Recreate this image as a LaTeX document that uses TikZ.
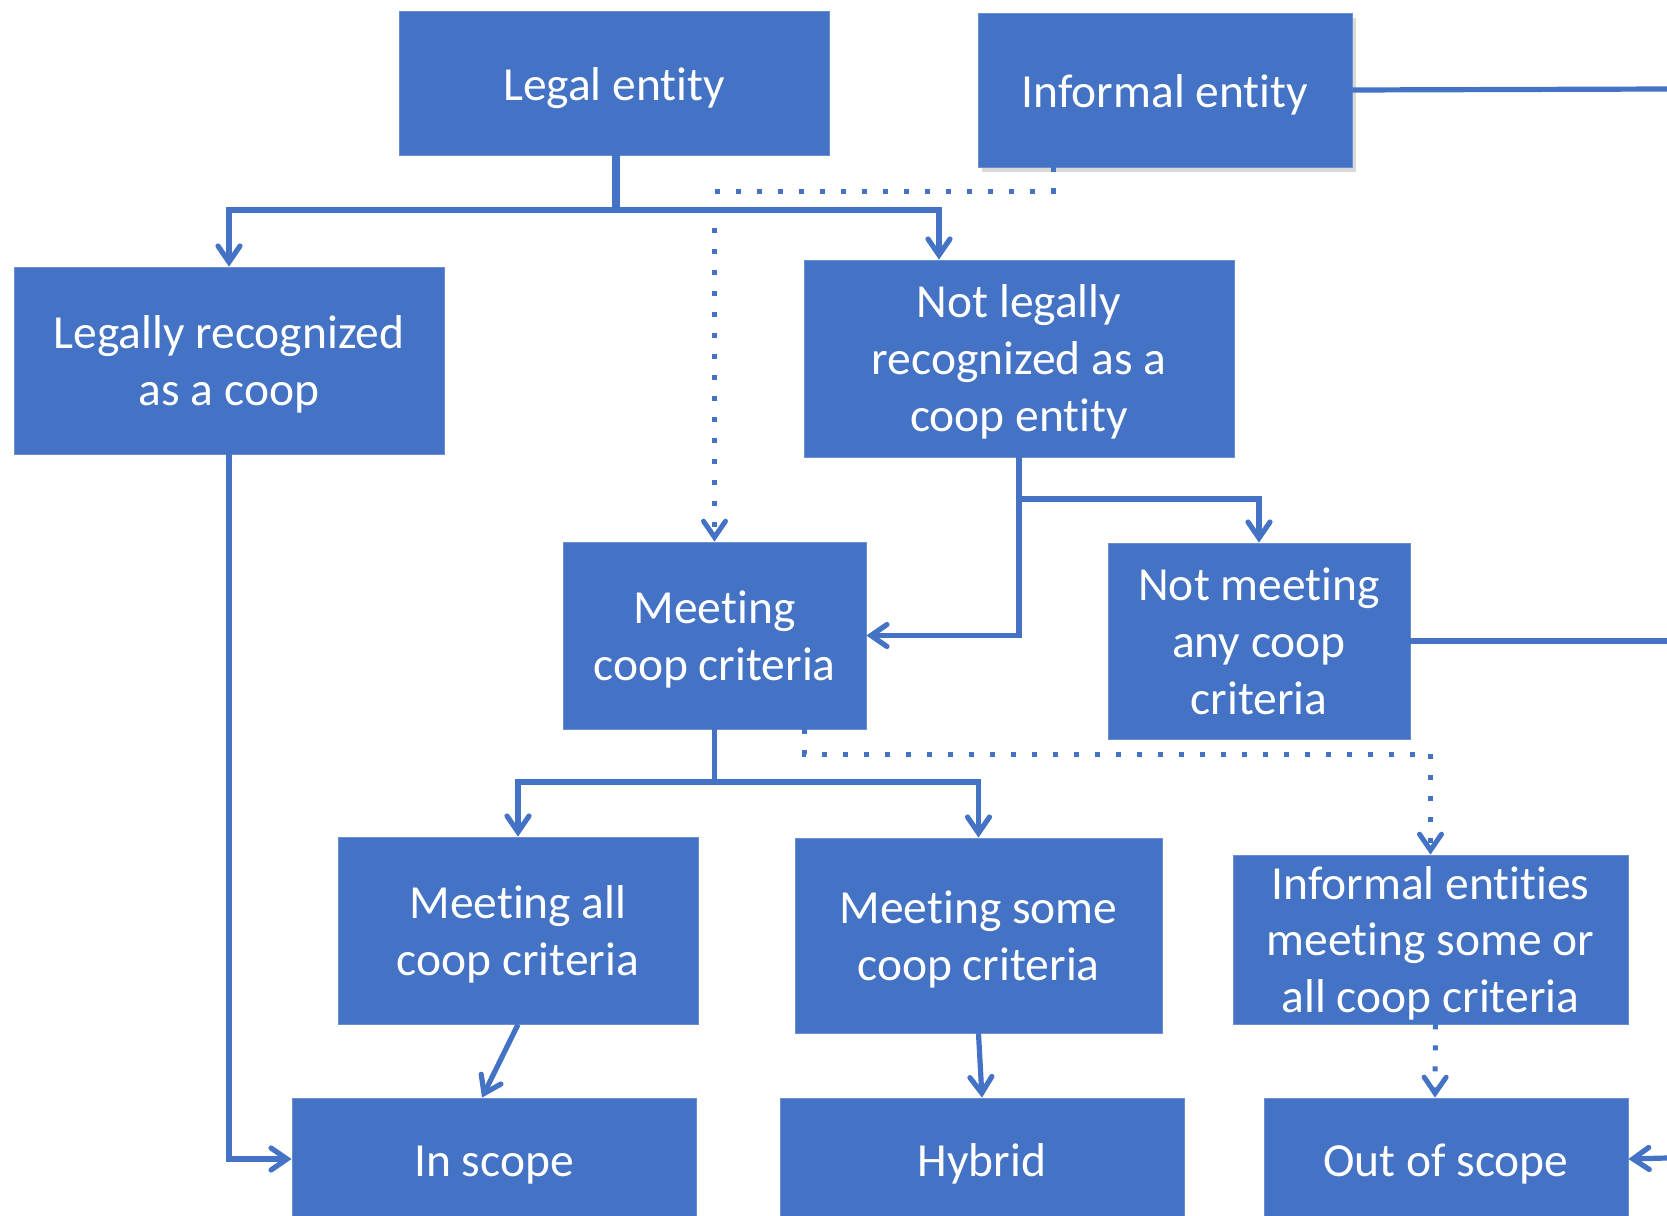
\documentclass[tikz,border=0pt]{standalone}
\usepackage{fontspec}
\setmainfont{Carlito}[Ligatures={NoCommon}]
\usetikzlibrary{arrows.meta,calc,shadows}
\definecolor{boxblue}{HTML}{4472C4}
\definecolor{boxedge}{HTML}{6A8ED0}
\newcommand{\nl}{\kern0pt }
\begin{document}
\begin{tikzpicture}[x=0.5pt,y=-0.5pt,
  box/.style={rectangle,fill=boxblue,draw=boxedge,line width=0.4pt,text=white,align=center,
    inner sep=0pt,font=\fontsize{23.75pt}{28.5pt}\selectfont,text depth=0pt,
    execute at begin node={\rule{0pt}{17pt}}},
  conn/.style={draw=boxblue,line width=2.6pt},
  arr/.style={conn,-{Straight Barb[length=8pt,width=11pt,line cap=round]}},
  dotconn/.style={draw=boxblue,line width=2.5pt,dash pattern=on 2.5pt off 8pt},
  dotarr/.style={dotconn,-{Straight Barb[length=8pt,width=11pt,line cap=round,sep=0pt]}}]
\useasboundingbox (0,0) rectangle (1667,1216);
\clip (0,0) rectangle (1667,1216);
\node[box,minimum width=215pt,minimum height=72pt] (legal) at (614,83) {Legal ent\nl ity};
\node[box,minimum width=187pt,minimum height=77pt,drop shadow={opacity=0.3,shadow xshift=2pt,shadow yshift=-2.5pt}] (informal) at (1165,90) {Informal ent\nl ity};
\node[box,minimum width=215pt,minimum height=93.5pt] (legrec) at (229,360.5) {Legally recognized\\as a coop};
\node[box,minimum width=215pt,minimum height=98.5pt] (notleg) at (1019,358.5) {Not legally\\recognized as a\\coop ent\nl ity};
\node[box,minimum width=151.5pt,minimum height=93.5pt] (meet) at (714.5,635.5) {Meet\nl ing\\coop criteria};
\node[box,minimum width=151pt,minimum height=98pt] (notmeet) at (1259,641) {Not meet\nl ing\\any coop\\criteria};
\node[box,minimum width=180pt,minimum height=93.5pt] (meetall) at (518,930.5) {Meet\nl ing all\\coop criteria};
\node[box,minimum width=183.5pt,minimum height=97.5pt] (meetsome) at (978.5,935.5) {Meet\nl ing some\\coop criteria};
\node[box,minimum width=197.5pt,minimum height=84.5pt] (infmeet) at (1430.5,939.5) {Informal ent\nl it\nl ies\\meet\nl ing some or\\all coop criteria};
\node[box,minimum width=202pt,minimum height=61pt] (inscope) at (494,1159) {In scope};
\node[box,minimum width=202pt,minimum height=61pt] (hybrid) at (982,1159) {Hybrid};
\node[box,minimum width=182pt,minimum height=61pt] (outscope) at (1446,1159) {Out of scope};
% junctions
\coordinate (j1) at (616,210);
\coordinate (j2) at (1019,499);
\coordinate (j3) at (714.5,782);
\coordinate (d1) at (714.5,191);
\coordinate (d2) at (1430.5,754);
\coordinate (r0) at (1667,89);
\coordinate (r1) at (1667,641);
\coordinate (r2) at (1667,1158);
% connectors
\draw[conn,line width=4pt] ($(legal.south)+(2,0)$) -- ($(j1)+(0,1)$);
\draw[arr] (j1) -| (legrec.north);
\draw[arr] (j1) -| ($(notleg.north)+(-80,0)$);
\draw[dotarr] ($(informal.south)+(-112,0)$) |- (d1) -- (meet.north);
\draw[conn] (notleg.south) -- (j2);
\draw[arr] (j2) -| (notmeet.north);
\draw[arr] (j2) |- (meet.east);
\draw[conn] (informal.east) -- (r0);
\draw[conn] (notmeet.east) -- (r1);
\draw[arr] (r2) -- (outscope.east);
\draw[conn] (meet.south) -- (j3);
\draw[arr] (j3) -| (meetall.north);
\draw[arr] (j3) -| (meetsome.north);
\draw[dotarr] ($(meet.south)+(90,0)$) |- (d2) -- (infmeet.north);
\draw[arr] (legrec.south) |- (inscope.west);
\draw[arr] (meetall.south) -- ($(inscope.north)+(-12,0)$);
\draw[arr] (meetsome.south) -- (hybrid.north);
\draw[dotarr] ($(infmeet.south)+(5,0)$) -- ($(outscope.north)+(-11,0)$);
\end{tikzpicture}
\end{document}
